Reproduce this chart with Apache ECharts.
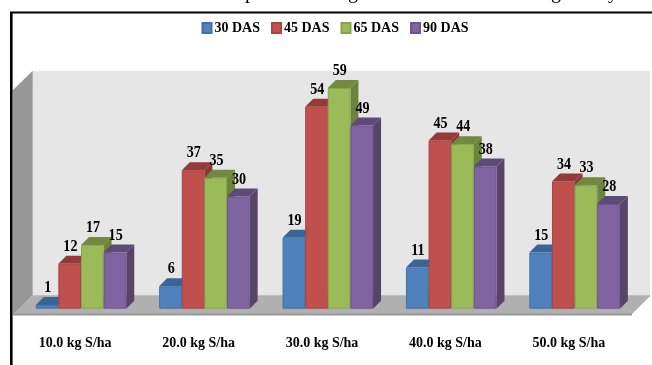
<!DOCTYPE html>
<html>
<head>
<meta charset="utf-8">
<style>html,body{margin:0;padding:0;background:#fff}#chart{width:652px;height:365px}</style>
<script src="https://cdn.jsdelivr.net/npm/echarts@6/dist/echarts.min.js"></script>
</head>
<body>
<div id="chart"></div>
<script>
// Sulphur rates on the category axis, growth stages as series
const categories = ['10.0 kg S/ha', '20.0 kg S/ha', '30.0 kg S/ha', '40.0 kg S/ha', '50.0 kg S/ha'];
const stageNames = ['30 DAS', '45 DAS', '65 DAS', '90 DAS'];
const das30 = [1, 6, 19, 11, 15];
const das45 = [12, 37, 54, 45, 34];
const das65 = [17, 35, 59, 44, 33];
const das90 = [15, 30, 49, 38, 28];
const stageValues = [das30, das45, das65, das90];

const faceColors = ['#4F81BD', '#C0504D', '#9BBB59', '#8064A2'];
const edgeColors = ['#4271A8', '#A94442', '#87A54B', '#6F5590'];
const topColors = ['#3A6496', '#943B39', '#72893F', '#5E4A78'];
const sideColors = ['#375D8C', '#8C3836', '#6C833B', '#574569'];

const FONT = '"Liberation Serif", serif';
const DEPTH = 8;        // oblique offset of the bar's back face
const SHIFT = 5.8;      // bars stand on the floor, right of the front edge
const BAR_SHARE = 0.1834;

function bar3d(stageIndex) {
  return function (params, api) {
    const cat = api.value(0);
    const val = api.value(1);
    const top = api.coord([cat, val]);
    const base = api.coord([cat, 0]);
    const w = api.size([1, 0])[0] * BAR_SHARE;
    const x0 = top[0] + SHIFT + (stageIndex - 2) * w;
    const x1 = x0 + w;
    const yT = top[1];
    const yB = base[1];
    return {
      type: 'group',
      children: [
        { type: 'polygon', shape: { points: [[x1, yT], [x1 + DEPTH, yT - DEPTH], [x1 + DEPTH, yB - DEPTH], [x1, yB]] },
          style: { fill: sideColors[stageIndex] } },
        { type: 'polygon', shape: { points: [[x0, yT], [x0 + DEPTH, yT - DEPTH], [x1 + DEPTH, yT - DEPTH], [x1, yT]] },
          style: { fill: topColors[stageIndex] } },
        { type: 'rect', shape: { x: x0 + 0.5, y: yT + 0.5, width: w - 1, height: yB - yT - 1 },
          style: { fill: faceColors[stageIndex], stroke: edgeColors[stageIndex], lineWidth: 1 } },
        { type: 'text', z2: 100, x: x0 + w / 2 + 0.7, y: yT - 17, scaleX: 0.88,
          style: { text: String(val), fill: '#000', font: 'bold 16px ' + FONT, align: 'center', verticalAlign: 'middle' } }
      ]
    };
  };
}

const chart = echarts.init(document.getElementById('chart'), null, { renderer: 'canvas' });
chart.setOption({
  animation: false,
  backgroundColor: '#fff',
  legend: {
    left: 196.5,
    top: 16,
    icon: 'rect',
    itemWidth: 9,
    itemHeight: 10,
    itemGap: 11,
    data: stageNames,
    textStyle: { fontFamily: FONT, fontWeight: 'bold', fontSize: 14, color: '#000', padding: [0, 0, 0, -2] }
  },
  grid: { left: 13.5, width: 617, top: 84.3, height: 224.4 },
  xAxis: {
    type: 'category',
    data: categories,
    axisLine: { show: false },
    axisTick: { show: false },
    axisLabel: { margin: 28, interval: 0, color: '#000', fontFamily: FONT, fontWeight: 'bold', fontSize: 14 }
  },
  yAxis: { type: 'value', min: 0, max: 60, show: false, splitLine: { show: false } },
  graphic: [
    // chart walls, floor and frame
    { type: 'rect', z: -10, shape: { x: 32.7, y: 70.7, width: 617.3, height: 225 }, style: { fill: '#E6E6E6' } },
    { type: 'polygon', z: -10, shape: { points: [[13, 90], [32.7, 70.7], [32.7, 295.3], [13, 315]] }, style: { fill: '#979797' } },
    { type: 'polygon', z: -9, shape: { points: [[13, 314], [32.7, 295.3], [651, 295.3], [632, 314]] }, style: { fill: '#B0B0B0' } },
    { type: 'rect', z: -9, shape: { x: 13, y: 313.5, width: 619, height: 2 }, style: { fill: '#989898' } },
    { type: 'rect', z: -8, shape: { x: 10, y: 12, width: 2.6, height: 353 }, style: { fill: '#000' } },
    { type: 'rect', z: -8, shape: { x: 10, y: 11.6, width: 642, height: 2 }, style: { fill: '#000' } },
    // descenders of the caption line that runs above the frame
    ...[['p', 250], ['g', 353], ['g', 556], ['y', 613]].map(([ch, x]) => ({
      type: 'text', z: -8, x: x, y: -7,
      style: { text: ch, fill: '#000', font: '20px ' + FONT, align: 'center', verticalAlign: 'middle' }
    }))
  ],
  series: stageNames.map((name, i) => ({
    name: name,
    type: 'custom',
    renderItem: bar3d(i),
    encode: { x: 0, y: 1 },
    itemStyle: { color: faceColors[i], borderColor: edgeColors[i], borderWidth: 1 },
    data: categories.map((c, k) => [k, stageValues[i][k]])
  }))
});
</script>
</body>
</html>
